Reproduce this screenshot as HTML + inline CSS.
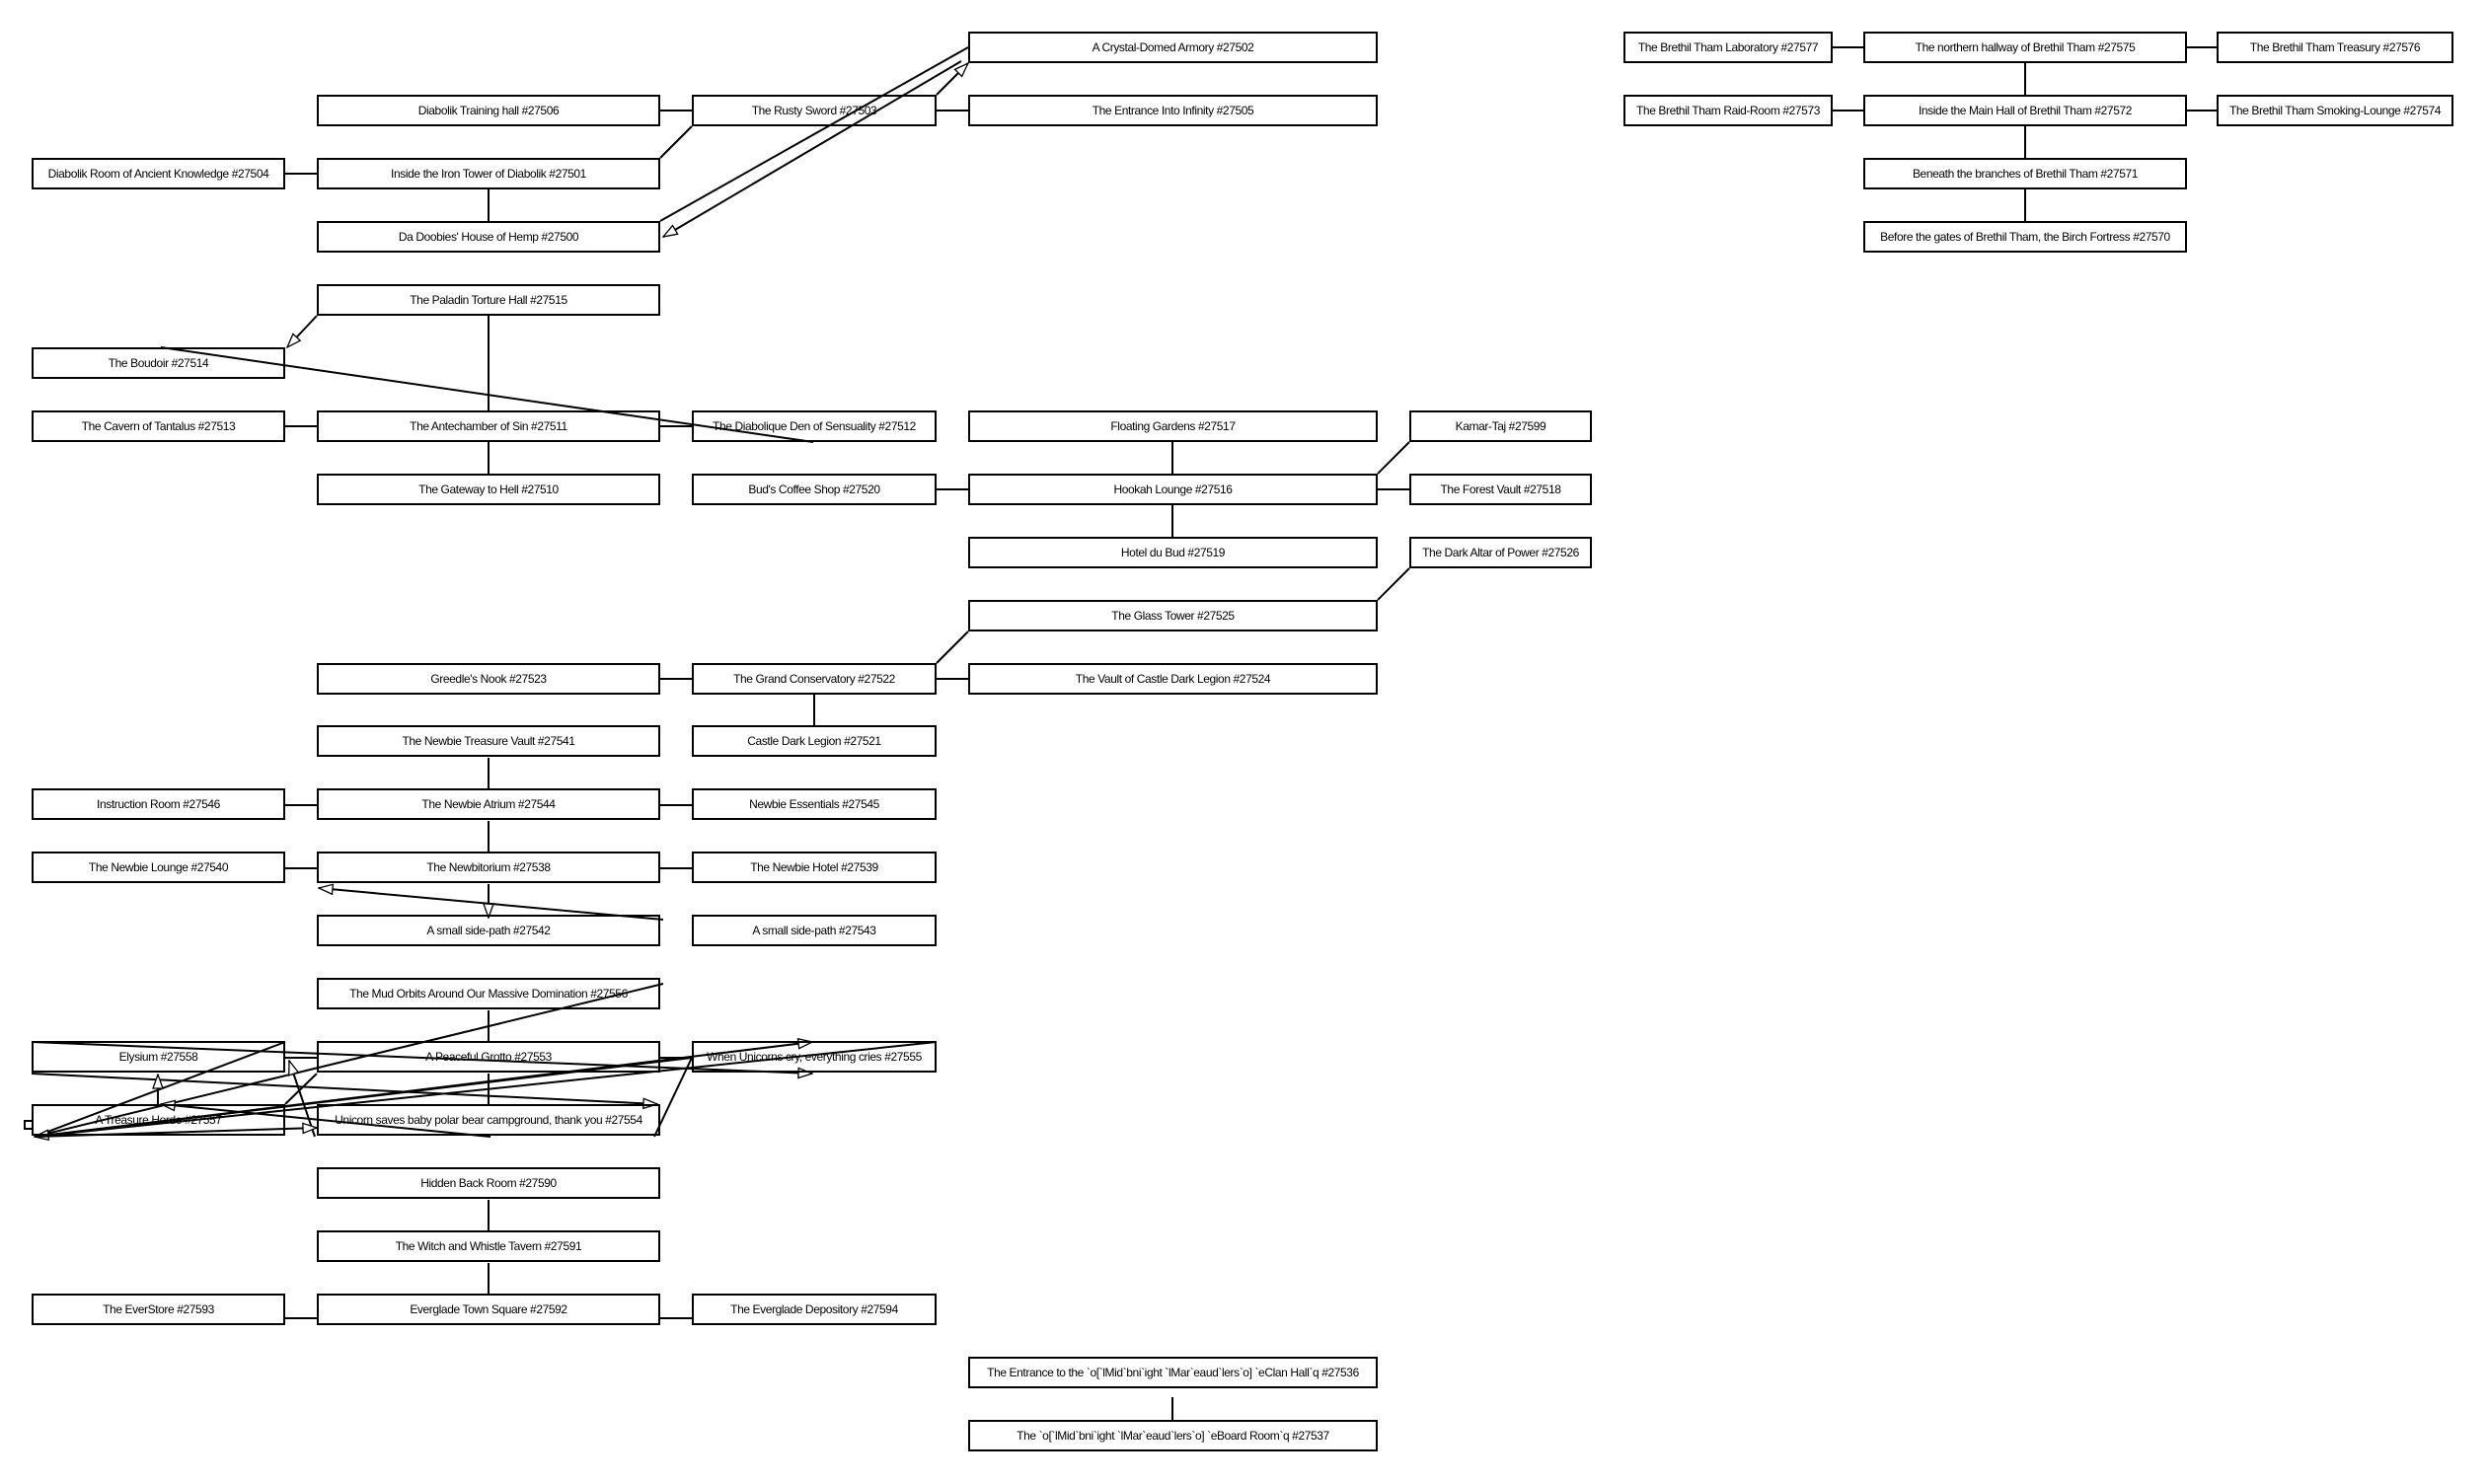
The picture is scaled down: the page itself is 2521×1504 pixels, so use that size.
<!DOCTYPE html>
<html><head><meta charset="utf-8"><style>
body{margin:0;background:#fff;width:2521px;height:1504px;position:relative;overflow:hidden;font-family:"Liberation Sans",sans-serif}
.b{position:absolute;height:28px;border:2px solid #000;box-sizing:content-box;display:flex;align-items:center;justify-content:center;font-size:12px;letter-spacing:-0.4px;white-space:nowrap;background:transparent}
svg{position:absolute;left:0;top:0}
</style></head><body>
<svg width="2521" height="1504" style="z-index:0">
<defs><marker id="a" markerWidth="16" markerHeight="12" refX="15" refY="6" orient="auto" markerUnits="userSpaceOnUse"><path d="M1,1 L15,6 L1,11 Z" fill="#fff" stroke="#000" stroke-width="1.3"/></marker></defs>
<g stroke="#000" stroke-width="2" fill="none">
<line x1="669" y1="112" x2="701" y2="112"/><line x1="949" y1="112" x2="981" y2="112"/>
<line x1="289" y1="176" x2="321" y2="176"/><line x1="495" y1="192" x2="495" y2="224"/>
<line x1="669" y1="160" x2="701" y2="128"/>
<line x1="949" y1="96" x2="981" y2="64" marker-end="url(#a)"/>
<line x1="669" y1="224" x2="981" y2="48"/>
<line x1="974" y1="62" x2="672" y2="240" marker-end="url(#a)"/>
<line x1="495" y1="320" x2="495" y2="416"/>
<line x1="321" y1="320" x2="291" y2="352" marker-end="url(#a)"/>
<line x1="163" y1="352" x2="824" y2="448"/>
<line x1="289" y1="432" x2="321" y2="432"/><line x1="669" y1="432" x2="701" y2="432"/>
<line x1="495" y1="448" x2="495" y2="480"/>
<line x1="1188" y1="448" x2="1188" y2="480"/><line x1="949" y1="496" x2="981" y2="496"/><line x1="1396" y1="496" x2="1428" y2="496"/>
<line x1="1396" y1="480" x2="1428" y2="448"/><line x1="1188" y1="512" x2="1188" y2="544"/>
<line x1="1428" y1="576" x2="1396" y2="608"/><line x1="981" y1="640" x2="949" y2="672"/>
<line x1="669" y1="688" x2="701" y2="688"/><line x1="949" y1="688" x2="981" y2="688"/><line x1="825" y1="704" x2="825" y2="736"/>
<line x1="495" y1="768" x2="495" y2="800"/><line x1="289" y1="816" x2="321" y2="816"/><line x1="669" y1="816" x2="701" y2="816"/>
<line x1="495" y1="832" x2="495" y2="864"/><line x1="289" y1="880" x2="321" y2="880"/><line x1="669" y1="880" x2="701" y2="880"/>
<line x1="495" y1="896" x2="495" y2="930" marker-end="url(#a)"/>
<line x1="672" y1="932" x2="323" y2="900" marker-end="url(#a)"/>
<line x1="495" y1="1024" x2="495" y2="1056"/><line x1="495" y1="1088" x2="495" y2="1120"/>
<line x1="289" y1="1072" x2="321" y2="1072"/><line x1="669" y1="1072" x2="701" y2="1072"/>
<line x1="35" y1="1152" x2="672" y2="997"/><line x1="35" y1="1152" x2="289" y2="1056"/>
<line x1="35" y1="1152" x2="949" y2="1056"/><line x1="701" y1="1072" x2="35" y2="1152" marker-end="url(#a)"/>
<line x1="32" y1="1056" x2="823" y2="1088" marker-end="url(#a)"/>
<line x1="32" y1="1088" x2="666" y2="1119" marker-end="url(#a)"/>
<line x1="160" y1="1119" x2="160" y2="1089" marker-end="url(#a)"/>
<line x1="497" y1="1152" x2="163" y2="1119" marker-end="url(#a)"/>
<line x1="289" y1="1119" x2="321" y2="1088"/>
<line x1="319" y1="1152" x2="293" y2="1075" marker-end="url(#a)"/>
<line x1="35" y1="1152" x2="321" y2="1143" marker-end="url(#a)"/>
<line x1="663" y1="1152" x2="701" y2="1072"/>
<line x1="35" y1="1152" x2="823" y2="1056" marker-end="url(#a)"/>
<rect x="25" y="1136" width="8" height="8"/>
<line x1="495" y1="1216" x2="495" y2="1248"/><line x1="495" y1="1280" x2="495" y2="1312"/>
<line x1="289" y1="1336" x2="321" y2="1336"/><line x1="669" y1="1336" x2="701" y2="1336"/>
<line x1="1188" y1="1416" x2="1188" y2="1440"/>
<line x1="1857" y1="48" x2="1888" y2="48"/><line x1="2216" y1="48" x2="2246" y2="48"/>
<line x1="1857" y1="112" x2="1888" y2="112"/><line x1="2216" y1="112" x2="2246" y2="112"/>
<line x1="2052" y1="64" x2="2052" y2="96"/><line x1="2052" y1="128" x2="2052" y2="160"/><line x1="2052" y1="192" x2="2052" y2="224"/>
</g></svg>
<div id="c"></div>
<script>
var A=[32,253],B=[321,344],C=[701,244],D=[981,411],E=[1428,181],R1=[1645,208],R2=[1888,324],R3=[2246,236];
var L=[
[D,0,"A Crystal-Domed Armory #27502"],[R1,0,"The Brethil Tham Laboratory #27577"],[R2,0,"The northern hallway of Brethil Tham #27575"],[R3,0,"The Brethil Tham Treasury #27576"],
[B,1,"Diabolik Training hall #27506"],[C,1,"The Rusty Sword #27503"],[D,1,"The Entrance Into Infinity #27505"],[R1,1,"The Brethil Tham Raid-Room #27573"],[R2,1,"Inside the Main Hall of Brethil Tham #27572"],[R3,1,"The Brethil Tham Smoking-Lounge #27574"],
[A,2,"Diabolik Room of Ancient Knowledge #27504"],[B,2,"Inside the Iron Tower of Diabolik #27501"],[R2,2,"Beneath the branches of Brethil Tham #27571"],
[B,3,"Da Doobies' House of Hemp #27500"],[R2,3,"Before the gates of Brethil Tham, the Birch Fortress #27570"],
[B,4,"The Paladin Torture Hall #27515"],[A,5,"The Boudoir #27514"],
[A,6,"The Cavern of Tantalus #27513"],[B,6,"The Antechamber of Sin #27511"],[C,6,"The Diabolique Den of Sensuality #27512"],[D,6,"Floating Gardens #27517"],[E,6,"Kamar-Taj #27599"],
[B,7,"The Gateway to Hell #27510"],[C,7,"Bud's Coffee Shop #27520"],[D,7,"Hookah Lounge #27516"],[E,7,"The Forest Vault #27518"],
[D,8,"Hotel du Bud #27519"],[E,8,"The Dark Altar of Power #27526"],[D,9,"The Glass Tower #27525"],
[B,10,"Greedle's Nook #27523"],[C,10,"The Grand Conservatory #27522"],[D,10,"The Vault of Castle Dark Legion #27524"],
[B,11,"The Newbie Treasure Vault #27541"],[C,11,"Castle Dark Legion #27521"],
[A,12,"Instruction Room #27546"],[B,12,"The Newbie Atrium #27544"],[C,12,"Newbie Essentials #27545"],
[A,13,"The Newbie Lounge #27540"],[B,13,"The Newbitorium #27538"],[C,13,"The Newbie Hotel #27539"],
[B,14,"A small side-path #27542"],[C,14,"A small side-path #27543"],
[B,15,"The Mud Orbits Around Our Massive Domination #27556"],
[A,16,"Elysium #27558"],[B,16,"A Peaceful Grotto #27553"],[C,16,"When Unicorns cry, everything cries #27555"],
[A,17,"A Treasure Horde #27557"],[B,17,"Unicorn saves baby polar bear campground, thank you #27554"],
[B,18,"Hidden Back Room #27590"],[B,19,"The Witch and Whistle Tavern #27591"],
[A,20,"The EverStore #27593"],[B,20,"Everglade Town Square #27592"],[C,20,"The Everglade Depository #27594"],
[D,21,"The Entrance to the `o[`lMid`bni`ight `lMar`eaud`lers`o] `eClan Hall`q #27536"],
[D,22,"The `o[`lMid`bni`ight `lMar`eaud`lers`o] `eBoard Room`q #27537"]];
var h="";L.forEach(function(e){h+='<div class="b" style="left:'+e[0][0]+'px;top:'+(32+e[1]*63.95)+'px;width:'+e[0][1]+'px">'+e[2].replace(/&/g,"&amp;").replace(/</g,"&lt;")+'</div>';});
document.getElementById("c").innerHTML=h;
</script>
</body></html>
